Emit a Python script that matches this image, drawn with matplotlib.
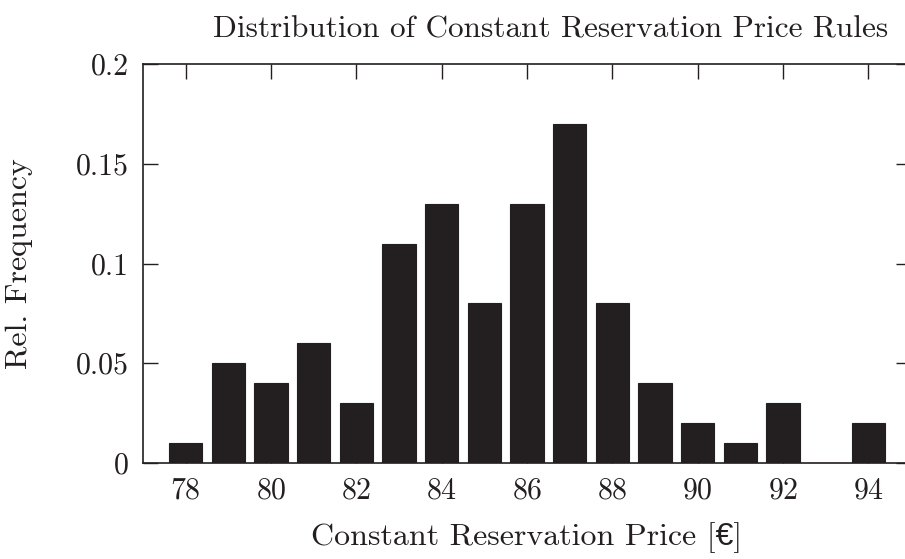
import matplotlib.pyplot as plt
import numpy as np

# reservation prices and their relative frequencies
prices = [78, 79, 80, 81, 82, 83, 84, 85, 86, 87, 88, 89, 90, 91, 92, 93, 94]
freqs = [0.01, 0.05, 0.04, 0.06, 0.03, 0.11, 0.13, 0.08, 0.13, 0.17,
         0.08, 0.04, 0.02, 0.01, 0.03, 0.0, 0.02]
x_ticks = [78, 80, 82, 84, 86, 88, 90, 92, 94]
y_ticks = [0, 0.05, 0.1, 0.15, 0.2]
y_labels = ['0', '0.05', '0.1', '0.15', '0.2']

plt.rcParams['font.family'] = ['cmr10', 'Liberation Sans']
plt.rcParams['axes.formatter.use_mathtext'] = True

fig = plt.figure(figsize=(9.05, 5.59), dpi=100)
# the right border of the frame sits just outside the picture
ax = fig.add_axes([143 / 905, 1 - 463 / 559, (911 - 143) / 905, (463 - 64) / 559])

ax.bar(prices, freqs, width=0.78, color='#231f20', edgecolor='#231f20', linewidth=0.8, zorder=3)

ax.set_xlim(77, 95)
ax.set_ylim(0, 0.2)
ax.set_xticks(x_ticks)
ax.set_yticks(y_ticks)
ax.set_yticklabels(y_labels)
ax.tick_params(direction='in', length=11, width=1, top=True, right=True,
               labelsize=21.5, pad=10, colors='#231f20')
for s in ax.spines.values():
    s.set_linewidth(1.2)
    s.set_color('#231f20')

ax.set_title('Distribution of Constant Reservation Price Rules', fontsize=22.5,
             pad=19, x=0.531, color='#231f20')
ax.set_xlabel('Constant Reservation Price [€]', fontsize=23, labelpad=13, color='#231f20')
ax.set_ylabel('Rel. Frequency', fontsize=23, labelpad=31, color='#231f20')

fig.savefig('out.png', dpi=100)
